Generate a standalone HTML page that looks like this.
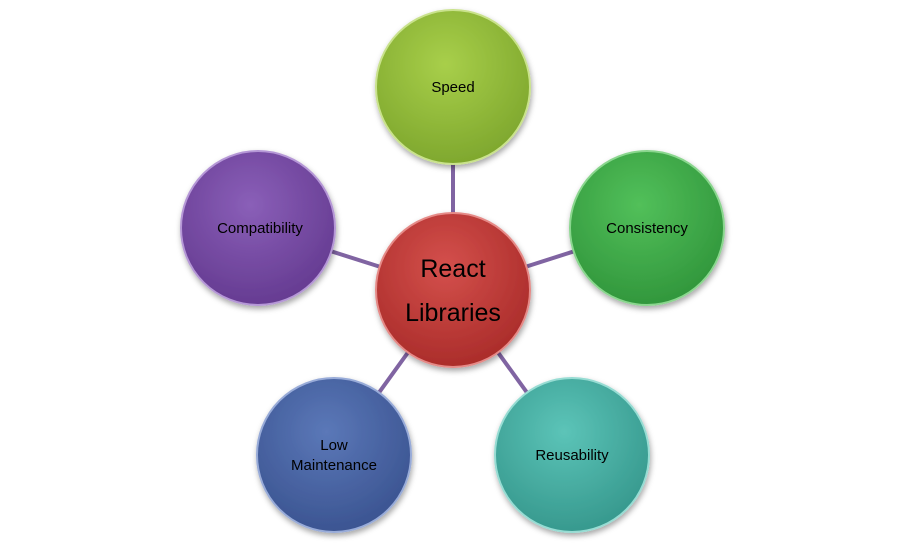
<!DOCTYPE html>
<html><head><style>
html,body{margin:0;padding:0;background:#fff;}
svg{display:block;}
text{font-family:"Liberation Sans",sans-serif;fill:#000;text-anchor:middle;}
</style></head><body>
<svg width="908" height="549" viewBox="0 0 908 549" xmlns="http://www.w3.org/2000/svg">
<defs>
<radialGradient id="red" cx="45%" cy="35%" r="70%"><stop offset="0" stop-color="#d4504c"/><stop offset="1" stop-color="#a82a28"/></radialGradient>
<radialGradient id="grn1" cx="45%" cy="35%" r="70%"><stop offset="0" stop-color="#a8cf4a"/><stop offset="1" stop-color="#7ca52c"/></radialGradient>
<radialGradient id="grn2" cx="45%" cy="35%" r="70%"><stop offset="0" stop-color="#52c05a"/><stop offset="1" stop-color="#2f943a"/></radialGradient>
<radialGradient id="pur" cx="45%" cy="35%" r="70%"><stop offset="0" stop-color="#8a5fb8"/><stop offset="1" stop-color="#63398f"/></radialGradient>
<radialGradient id="blu" cx="45%" cy="35%" r="70%"><stop offset="0" stop-color="#5b78b8"/><stop offset="1" stop-color="#39528f"/></radialGradient>
<radialGradient id="tea" cx="45%" cy="35%" r="70%"><stop offset="0" stop-color="#5cc4b8"/><stop offset="1" stop-color="#34968b"/></radialGradient>
<filter id="sh" x="-20%" y="-20%" width="140%" height="140%"><feDropShadow dx="1" dy="3" stdDeviation="3" flood-color="#000" flood-opacity="0.35"/></filter>
</defs>
<g stroke="#8064a2" stroke-width="4">
<line x1="453" y1="290" x2="453" y2="87"/>
<line x1="453" y1="290" x2="647" y2="228"/>
<line x1="453" y1="290" x2="258" y2="228"/>
<line x1="453" y1="290" x2="334" y2="455"/>
<line x1="453" y1="290" x2="572" y2="455"/>
</g>
<g filter="url(#sh)" stroke-width="2">
<circle cx="453" cy="87" r="77" fill="url(#grn1)" stroke="#c9e28c"/>
<circle cx="647" cy="228" r="77" fill="url(#grn2)" stroke="#8ad68e"/>
<circle cx="258" cy="228" r="77" fill="url(#pur)" stroke="#b597d6"/>
<circle cx="334" cy="455" r="77" fill="url(#blu)" stroke="#98abd8"/>
<circle cx="572" cy="455" r="77" fill="url(#tea)" stroke="#97dcd3"/>
<circle cx="453" cy="290" r="77" fill="url(#red)" stroke="#e58a87"/>
</g>
<g font-size="15">
<text x="453" y="92">Speed</text>
<text x="647" y="233">Consistency</text>
<text x="260" y="233">Compatibility</text>
<text x="334" y="450">Low</text>
<text x="334" y="470">Maintenance</text>
<text x="572" y="460">Reusability</text>
</g>
<g font-size="25">
<text x="453" y="277">React</text>
<text x="453" y="321">Libraries</text>
</g>
</svg>
</body></html>
